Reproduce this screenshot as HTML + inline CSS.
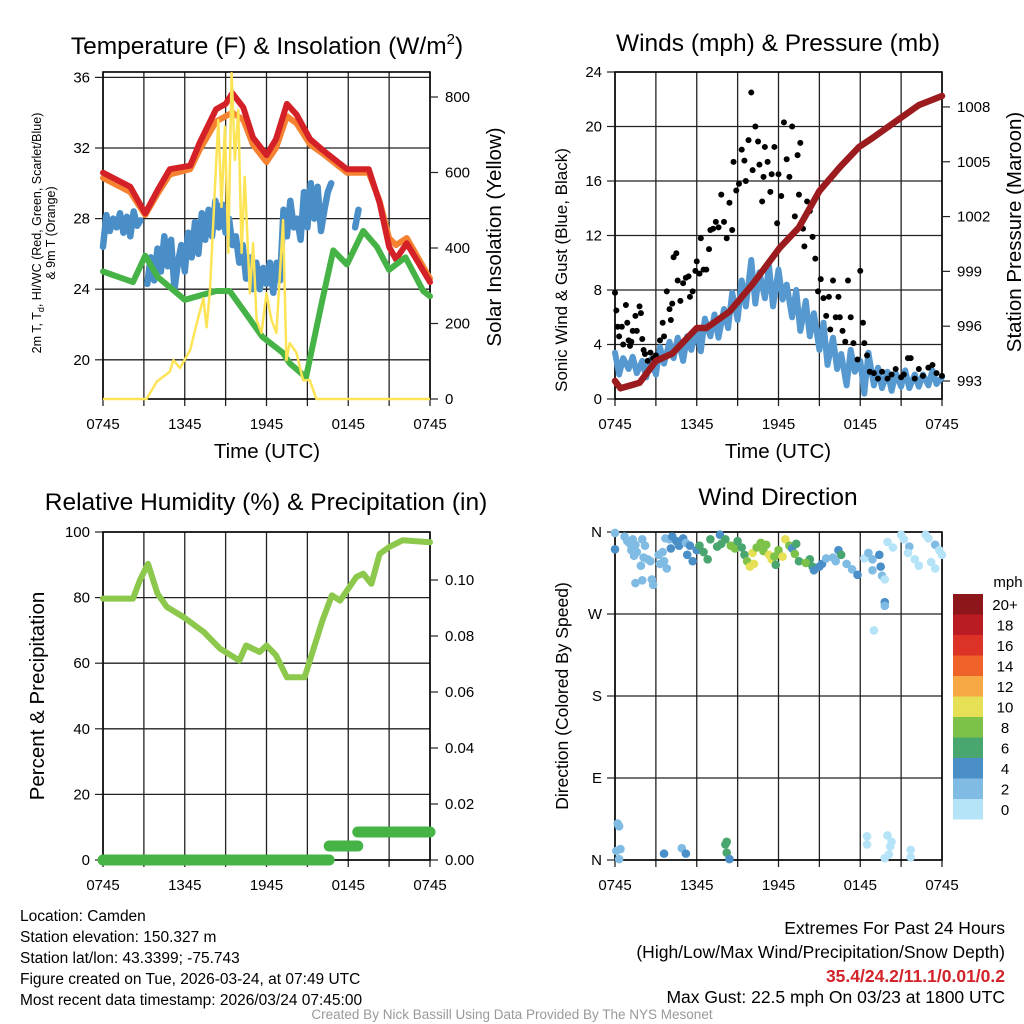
<!DOCTYPE html>
<html><head><meta charset="utf-8">
<style>
html,body{margin:0;padding:0;background:#fff;}
svg{display:block;font-family:"Liberation Sans",Arial,sans-serif;}
</style></head>
<body>
<svg id="s" width="1024" height="1024" viewBox="0 0 1024 1024" xmlns="http://www.w3.org/2000/svg">
<g id="text-layer">
<text x="267" y="54" font-size="24.5" text-anchor="middle">Temperature (F) &amp; Insolation (W/m<tspan dy="-10" font-size="15">2</tspan><tspan dy="10">)</tspan></text>
<text x="778" y="51" font-size="24.5" text-anchor="middle">Winds (mph) &amp; Pressure (mb)</text>
<text x="266" y="510" font-size="24.5" text-anchor="middle">Relative Humidity (%) &amp; Precipitation (in)</text>
<text x="778" y="505" font-size="24.5" text-anchor="middle">Wind Direction</text>
<text x="267" y="458" font-size="20.5" text-anchor="middle">Time (UTC)</text>
<text x="778" y="458" font-size="20.5" text-anchor="middle">Time (UTC)</text>
<text transform="translate(41,233) rotate(-90)" font-size="12.5" text-anchor="middle">2m T, T<tspan font-size="9" dy="3">d</tspan><tspan dy="-3">, HI/WC (Red, Green, Scarlet/Blue)</tspan></text>
<text transform="translate(55,233) rotate(-90)" font-size="12.5" text-anchor="middle">&amp; 9m T (Orange)</text>
<text transform="translate(501,237) rotate(-90)" font-size="20.5" text-anchor="middle">Solar Insolation (Yellow)</text>
<text transform="translate(567,270) rotate(-90)" font-size="17" text-anchor="middle">Sonic Wind &amp; Gust (Blue, Black)</text>
<text transform="translate(1021,232) rotate(-90)" font-size="20.5" text-anchor="middle">Station Pressure (Maroon)</text>
<text transform="translate(44,696) rotate(-90)" font-size="20.5" text-anchor="middle">Percent &amp; Precipitation</text>
<text transform="translate(568,696) rotate(-90)" font-size="17.5" text-anchor="middle">Direction (Colored By Speed)</text>
<text x="1008" y="587" font-size="15" text-anchor="middle">mph</text>
<g font-size="15.5">
<text x="20" y="921">Location: Camden</text>
<text x="20" y="942">Station elevation: 150.327 m</text>
<text x="20" y="963">Station lat/lon: 43.3399; -75.743</text>
<text x="20" y="984">Figure created on Tue, 2026-03-24, at 07:49 UTC</text>
<text x="20" y="1005">Most recent data timestamp: 2026/03/24 07:45:00</text>
</g>
<g font-size="17.5" text-anchor="end">
<text x="1005" y="934">Extremes For Past 24 Hours</text>
<text x="1005" y="958">(High/Low/Max Wind/Precipitation/Snow Depth)</text>
<text x="1005" y="982" fill="#d2232a" font-weight="bold">35.4/24.2/11.1/0.01/0.2</text>
<text x="1005" y="1003">Max Gust: 22.5 mph On 03/23 at 1800 UTC</text>
</g>
<text x="512" y="1019" font-size="13.5" fill="#999" text-anchor="middle">Created By Nick Bassill Using Data Provided By The NYS Mesonet</text>
</g>
</svg>
<script>
// ---- Panel 1 data ----
const tempTimes=[0,2.0,3.1,4.0,4.9,6.4,7.1,8.3,9.0,9.5,10.3,11.0,12.0,12.7,13.5,14.2,15.2,16.1,17.9,19.5,20.3,21.0,21.5,22.3,24];
const tempRed=[30.6,29.8,28.3,29.6,30.8,31.0,32.3,34.2,34.5,35.1,34.3,32.6,31.6,32.5,34.5,33.9,32.5,31.9,30.8,30.8,28.9,26.4,25.7,26.6,24.4];
const tempOrange=[30.3,29.5,28.2,29.4,30.5,30.8,31.9,33.5,33.8,34.0,33.6,32.2,31.2,32.0,33.8,33.4,32.2,31.7,30.6,30.6,29.0,26.9,26.5,26.9,24.6];
const dewTimes=[0,2.2,3.1,4.0,6.0,8.3,9.3,10.5,11.7,13.2,13.7,14.9,16.1,16.9,17.9,19.1,20.1,21.0,22.2,23.5,24];
const dewGreen=[25.0,24.4,25.9,24.7,23.4,23.9,23.9,22.6,21.3,20.4,19.8,19.0,23.4,26.2,25.4,27.3,26.4,25.1,25.8,23.9,23.6];
const wcTimes=[0,0.25,0.5,0.75,1,1.25,1.5,1.75,2,2.25,2.5,2.75,null,3.25,3.5,3.75,4,4.25,4.5,4.75,5,5.25,5.5,5.75,6,6.25,6.5,6.75,7,7.25,7.5,7.75,8,8.25,8.5,8.75,9,9.25,9.5,9.75,10,10.25,10.5,10.75,11,11.25,11.5,11.75,12,12.25,12.5,12.75,13,13.25,13.5,13.75,14,14.25,14.5,14.75,15,15.25,15.5,15.75,16,16.25,16.5,16.75,null,18.5,18.75];
const wcBlue=[26.4,28.2,27.3,28.0,27.5,28.3,27.2,28.1,27.0,28.4,27.6,27.9,null,24.3,25.8,24.5,26.3,25.0,27.0,25.3,26.8,24.0,25.5,26.5,25.0,27.2,25.8,27.8,26.0,28.3,26.8,28.5,27.0,29.0,27.5,28.8,27.2,28.0,26.5,27.0,25.5,26.5,24.6,25.8,24.0,25.5,24.0,25.2,24.3,25.5,23.8,25.5,24.5,28.5,27.0,29.0,27.5,28.0,26.8,29.5,27.5,30.0,28.0,29.8,27.3,28.5,29.5,30.0,null,27.5,28.5];
const solTimes=[0,3.2,3.95,4.9,5.17,5.65,6.4,6.88,7.37,7.6,7.85,8.22,8.46,8.7,8.95,9.2,9.44,9.68,9.93,10.17,10.4,10.78,11.02,11.27,11.63,12.0,12.37,12.73,13.22,13.46,13.7,14.2,14.68,15.17,15.66,24];
const solVals=[0,0,46,72,103,82,130,200,267,190,289,563,739,509,721,387,863,633,766,387,589,280,413,209,175,280,209,175,474,103,148,122,50,50,0,0];
// ---- Panel 2 data ----
const presTimes=[0,0.4,1.8,3.0,4.2,6.0,6.7,8.4,10.1,12.1,13.5,15.0,16.5,17.9,18.9,20.4,22.3,24];
const presVals=[993.0,992.6,992.9,994.1,994.5,995.9,995.9,996.8,998.3,1000.3,1001.4,1003.4,1004.7,1005.8,1006.3,1007.1,1008.1,1008.6];
const windTimes=[0,0.3,0.6,1,1.3,1.6,2,2.3,2.6,3,3.3,3.6,4,4.3,4.6,5,5.3,5.6,6,6.3,6.6,7,7.3,7.6,8,8.3,8.6,9,9.3,9.6,10,10.3,10.6,11,11.3,11.6,12,12.3,12.6,13,13.3,13.6,14,14.3,14.6,15,15.3,15.6,16,16.3,16.6,17,17.3,17.6,18,18.3,18.6,19,19.3,19.6,20,20.3,20.6,21,21.3,21.6,22,22.3,22.6,23,23.3,23.6,24];
const windVals=[3.4,1.8,3.0,2.2,3.1,1.9,2.8,1.6,2.9,1.8,3.8,2.6,4.2,3.0,4.5,2.8,4.6,3.6,5.2,3.5,5.9,4.6,6.2,4.5,6.6,5.2,7.8,5.8,8.7,6.8,10.2,7.0,9.3,7.4,9.8,6.8,9.5,7.3,8.4,6.0,8.0,5.0,7.2,4.6,6.3,3.6,5.6,2.5,4.5,2.2,3.3,1.0,3.6,2.0,2.8,0.4,3.4,1.0,2.3,0.8,2.0,0.6,1.9,0.9,2.1,0.8,1.8,0.9,1.8,1.0,2.1,1.1,1.6];
const gustTimes=[0,0.1,0.2,0.3,0.5,0.6,0.8,0.9,1.0,1.1,1.2,1.3,1.5,1.6,1.8,1.9,2.0,2.1,2.2,2.4,2.6,2.8,3.0,3.3,3.5,3.6,3.8,4.0,4.1,4.2,4.3,4.5,4.6,4.8,5.0,5.2,5.4,5.5,5.7,5.9,6.0,6.2,6.3,6.5,6.7,6.9,7.0,7.2,7.4,7.6,7.8,8.0,8.2,8.4,8.6,8.7,8.9,9.1,9.3,9.5,9.6,9.8,10.0,10.1,10.3,10.5,10.6,10.8,10.9,11.0,11.2,11.4,11.5,11.7,11.9,12.0,12.2,12.4,12.6,12.8,13.0,13.2,13.4,13.5,13.6,13.8,13.9,14.1,14.3,14.5,14.7,14.9,15.1,15.3,15.5,15.7,15.8,16.0,16.2,16.4,16.5,16.7,16.9,17.1,17.3,17.5,17.8,18.0,18.2,18.3,18.5,18.7,19.0,19.3,19.6,20.0,20.3,20.6,21.0,21.2,21.5,21.7,22.0,22.3,22.6,23.0,23.3,23.6,24.0];
const gustVals=[7.8,6.5,5.3,4.6,5.3,4.0,6.9,5.6,4.3,3.9,4.2,5.0,6.1,5.0,6.8,6.3,4.4,3.6,3.3,2.8,3.4,3.0,3.2,4.3,5.6,4.6,7.9,6.6,5.8,7.0,10.4,10.7,8.7,7.2,8.5,8.9,9.0,7.5,7.9,9.4,10.1,9.2,11.8,9.5,9.5,11.0,12.4,12.5,13.0,12.6,15.0,13.0,11.8,14.4,12.4,17.4,15.3,15.8,18.3,17.5,16.0,19.0,22.5,16.8,20.0,18.9,17.2,14.5,16.3,18.5,17.4,15.2,16.5,18.5,12.9,16.5,14.9,20.3,17.6,16.3,20.0,13.4,17.9,15.0,18.8,12.5,11.2,14.5,13.8,11.9,10.3,7.9,8.8,7.4,6.1,7.5,5.1,8.7,6.0,7.5,6.0,5.0,4.2,8.7,6.0,4.1,2.9,9.4,5.6,4.1,3.2,2.0,1.9,1.5,2.0,1.5,1.8,2.2,1.6,1.8,3.0,3.0,1.5,2.2,1.7,2.3,2.5,1.9,1.7];
// ---- Panel 3 data ----
const rhTimes=[0,2.2,2.7,3.3,4.0,4.7,5.9,7.4,8.6,9.0,10.0,10.5,11.5,12.0,12.7,13.5,14.4,14.8,16.1,16.8,17.4,18.6,19.1,19.7,20.3,21.0,22.0,24];
const rhVals=[79.7,79.7,85.2,90.3,81.2,77.1,74.1,69.5,64.4,63.4,60.8,65.4,63.4,65.4,62.4,55.7,55.7,55.7,73.0,80.7,79.1,86.3,87.3,84.2,93.3,95.4,97.5,96.9];
const precipTimes=[0,16.6,16.6,18.7,18.7,24];
const precipVals=[0,0,0.005,0.005,0.01,0.01];
// ---- Panel 4 data ----
const dirTimes=[0,0,0.7,0.9,1.1,1.3,1.5,1.2,1.6,2.0,2.2,1.4,2.1,2.4,2.6,1.9,1.5,2.0,2.7,2.8,3.2,3.5,3.3,3.6,3.8,3.7,4.0,4.2,4.5,4.7,4.1,5.0,5.2,5.5,5.3,5.7,6.0,6.2,6.5,6.8,7.0,7.5,7.7,7.8,8.1,8.5,8.8,9.0,9.3,9.5,9.7,9.9,10.1,10.2,10.4,10.7,10.9,11.3,11.1,11.5,11.7,11.8,12.0,12.3,12.5,12.8,13.0,13.2,13.5,13.3,14.3,14.0,14.5,14.6,15.0,15.2,15.5,16,16.2,16.4,16.6,17.0,17.4,17.8,18.3,18.6,18.9,19.4,18.9,19.5,19.6,19.8,19.8,19.8,19.0,20.0,20.4,21.0,21.2,21.6,21.5,22.0,22.3,22.8,23.0,23.5,23.8,24,23.2,23.5,0.2,0.3,0.4,0.1,0.3,3.6,4.9,5.2,8.2,8.1,8.2,8.4,18.5,18.5,20.0,20.3,20.2,19.8,20.1,21.7,21.7];
const dirVals=[359,341,355,350,347,352,346,340,338,352,345,334,332,330,328,323,304,307,308,302,335,338,325,328,320,353,352,355,350,345,342,353,348,345,335,328,340,345,338,330,352,344,357,347,352,345,342,350,343,335,328,322,337,325,343,348,339,335,346,330,333,324,340,333,352,345,342,336,328,347,330,326,322,318,322,325,331,332,328,340,335,325,319,313,331,337,330,335,318,322,312,308,283,279,252,349,343,357,352,344,337,330,323,357,353,346,340,335,327,320,40,37,12,10,1,7,13,7,20,17,8,1,26,17,27,20,15,2,6,11,3];
const dirSpeeds=[3,4,2.5,2.5,2.5,2.5,2.5,2.5,2.5,2.5,3,2.5,2.5,2.5,2.5,2.5,2.5,2.5,2.5,2.5,3,3,3,2.5,2.5,3,3,5,5,5,5,5,3,5,5,5,5,6,6,6,7,6,5,6,6,8,8,7,7,6,8,10,10,10,8,8,9,10,8,10,8,7,9,10,10,8,5,8,7,6,7,8,6,5,4,5,3,3,3,4,6,3,3,4,1.5,3,3,4,3,4,3,1.5,4,3,1.5,1.5,1.5,1.5,1.5,3,1.5,1.5,1.5,1.5,1.5,3,1.5,1.5,1.5,1.5,3,3,3,3,3,5,3,5,6,6,6,5,1.5,1.5,1.5,1.5,1.5,1.5,1.5,1.5,1.5];
const speedBinLabels=['0','2','4','6','8','10','12','14','16','18','20+'];
const speedBinColors=['#b5e3f8','#80bbe4','#4a8fc7','#4aa66f','#7cc148','#e6e057','#f6a845','#ef6229','#dd3327','#bb1c23','#8c1619'];

const NS='http://www.w3.org/2000/svg';
const svg=document.getElementById('s');
function el(tag,attrs,parent){const e=document.createElementNS(NS,tag);for(const k in attrs)e.setAttribute(k,attrs[k]);(parent||svg).appendChild(e);return e;}

const X0=103,X1=430;
function xT(t){return X0+t/24*(X1-X0);}
const xTickLabels=['0745','1345','1945','0145','0745'];

function drawPanel(ox,name,top,bot,leftVals,leftLabels,yL,rightVals,rightLabels,yR,gridVals){
  const g=el('g',{});
  
  
  const L=X0+ox,R=X1+ox;
  for(let i=0;i<=8;i++){const x=L+i*(R-L)/8;el('line',{x1:x,y1:top,x2:x,y2:bot,stroke:'#222','stroke-width':1.3},g);
    el('line',{x1:x,y1:bot,x2:x,y2:bot+7,stroke:'#222','stroke-width':1.3},g);}
  gridVals.forEach(v=>{const y=yL(v);el('line',{x1:L,y1:y,x2:R,y2:y,stroke:'#222','stroke-width':1.3},g);});
  el('rect',{x:L,y:top,width:R-L,height:bot-top,fill:'none',stroke:'#000','stroke-width':1.6},g);
  leftVals.forEach((v,i)=>{const y=yL(v);el('line',{x1:L-8,y1:y,x2:L,y2:y,stroke:'#222','stroke-width':1.2},g);
    const t=el('text',{x:L-13,y:y+5,'font-size':15,'text-anchor':'end'},g);t.textContent=leftLabels[i];});
  if(rightVals)rightVals.forEach((v,i)=>{const y=yR(v);el('line',{x1:R,y1:y,x2:R+8,y2:y,stroke:'#222','stroke-width':1.2},g);
    const t=el('text',{x:R+15,y:y+5,'font-size':15},g);t.textContent=rightLabels[i];});
  xTickLabels.forEach((s,i)=>{const t=el('text',{x:L+i*(R-L)/4,y:bot+30,'font-size':15,'text-anchor':'middle'},g);t.textContent=s;});
}
function pathD(ts,vs,xf,yf){let d='',pen=false;for(let i=0;i<ts.length;i++){if(ts[i]===null||vs[i]===null){pen=false;continue;}d+=(pen?'L':'M')+xf(ts[i]).toFixed(1)+','+yf(vs[i]).toFixed(1);pen=true;}return d;}

// Panel 1
const yTemp=v=>148-(v-32)*17.65;
const ySol=v=>399-v*75.5/200;
drawPanel(0,'temperature',72,399,[36,32,28,24,20],['36','32','28','24','20'],yTemp,[0,200,400,600,800],['0','200','400','600','800'],ySol,[36,32,28,24,20]);
const p1=el('g',{});


let e;
e=el('path',{d:pathD(tempTimes,tempOrange,xT,yTemp),fill:'none',stroke:'#f58231','stroke-width':6,'stroke-linejoin':'round','stroke-linecap':'round'},p1);

e=el('path',{d:pathD(tempTimes,tempRed,xT,yTemp),fill:'none',stroke:'#d42027','stroke-width':6,'stroke-linejoin':'round','stroke-linecap':'round'},p1);

e=el('path',{d:pathD(wcTimes,wcBlue,xT,yTemp),fill:'none',stroke:'#4a8ec8','stroke-width':6.5,'stroke-linejoin':'round','stroke-linecap':'round'},p1);

e=el('path',{d:pathD(dewTimes,dewGreen,xT,yTemp),fill:'none',stroke:'#45b345','stroke-width':6,'stroke-linejoin':'round','stroke-linecap':'round'},p1);

e=el('path',{d:pathD(solTimes,solVals,xT,ySol),fill:'none',stroke:'#fde456','stroke-width':2.5,'stroke-linejoin':'round'},p1);


// Panel 2
const OX2=512;
const xT2=t=>xT(t)+OX2;
const yWind=v=>399-v*13.625;
const yPres=v=>381-(v-993)*18.27;
drawPanel(OX2,'winds',72,399,[0,4,8,12,16,20,24],['0','4','8','12','16','20','24'],yWind,[993,996,999,1002,1005,1008],['993','996','999','1002','1005','1008'],yPres,[0,4,8,12,16,20,24]);
const p2=el('g',{});


e=el('path',{d:pathD(windTimes,windVals,xT2,yWind),fill:'none',stroke:'#5599d0','stroke-width':6,'stroke-linejoin':'round','stroke-linecap':'round'},p2);

gustTimes.forEach((t,i)=>{const c=el('circle',{cx:xT2(t),cy:yWind(gustVals[i]),r:3,fill:'#000'},p2);

});
e=el('path',{d:pathD(presTimes,presVals,xT2,yPres),fill:'none',stroke:'#9b1b1e','stroke-width':6.5,'stroke-linejoin':'round','stroke-linecap':'round'},p2);


// Panel 3
const yRH=v=>860-v*3.28;
const yPr=v=>860-v*2800;
drawPanel(0,'humidity',532,860,[0,20,40,60,80,100],['0','20','40','60','80','100'],yRH,[0,0.02,0.04,0.06,0.08,0.10],['0.00','0.02','0.04','0.06','0.08','0.10'],yPr,[0,20,40,60,80,100]);
const p3=el('g',{});


e=el('path',{d:pathD(rhTimes,rhVals,xT,yRH),fill:'none',stroke:'#8cc84b','stroke-width':6,'stroke-linejoin':'round','stroke-linecap':'round'},p3);

for(let i=0;i<precipTimes.length-1;i++){if(precipVals[i]!==precipVals[i+1])continue;
  const l=el('line',{x1:xT(precipTimes[i]),y1:yPr(precipVals[i]),x2:xT(precipTimes[i+1]),y2:yPr(precipVals[i+1]),stroke:'#45b345','stroke-width':11,'stroke-linecap':'round'},p3);
  
  }

// Panel 4
const yDir=v=>860-v/360*328;
drawPanel(OX2,'direction',532,860,[0,90,180,270,360],['N','E','S','W','N'],yDir,null,null,null,[0,90,180,270,360]);
const p4=el('g',{});


dirTimes.forEach((t,i)=>{const b=Math.min(10,Math.floor(dirSpeeds[i]/2));
  const c=el('circle',{cx:xT2(t),cy:yDir(dirVals[i]),r:4.3,fill:speedBinColors[b]},p4);
  
  });
const cb=el('g',{});


speedBinColors.forEach((col,i)=>{const y=799-i*20.5;
  const r=el('rect',{x:953,y:y,width:30,height:20.5,fill:col},cb);
  
  
  const t=el('text',{x:1005,y:y+16,'font-size':15,'text-anchor':'middle'},cb);t.textContent=speedBinLabels[i];});
</script>
</body></html>
